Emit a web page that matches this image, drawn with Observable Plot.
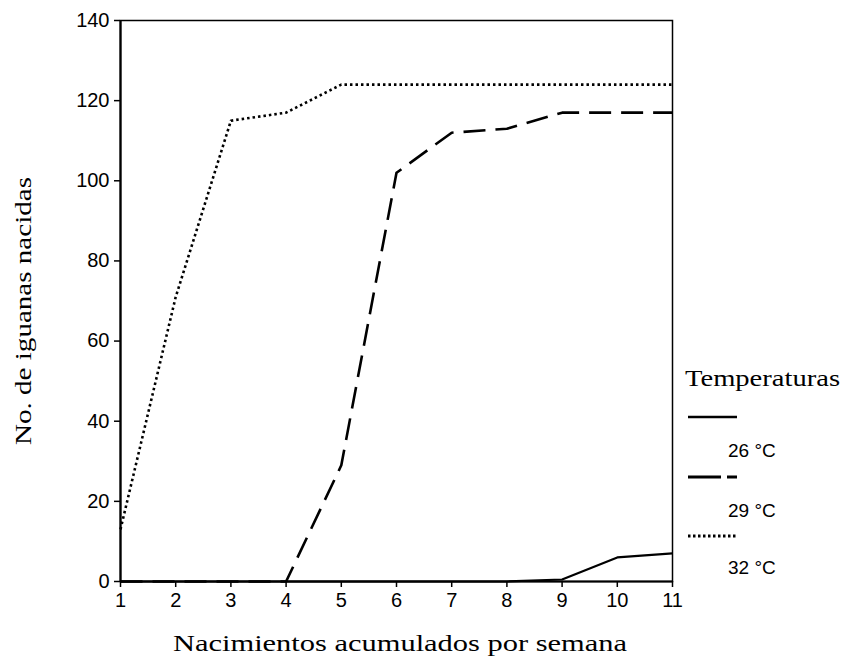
<!DOCTYPE html>
<html><head><meta charset="utf-8">
<script src="https://cdn.jsdelivr.net/npm/d3@7"></script>
<script src="https://cdn.jsdelivr.net/npm/@observablehq/plot@0.6"></script>
<style>
body{margin:0;background:#fff}
#chart{position:relative;width:845px;height:658px}
</style>
</head><body><div id="chart"></div>
<script>
// ---- data ----
const weeks  = [1, 2, 3, 4, 5, 6, 7, 8, 9, 10, 11];
const temp26 = [0, 0, 0, 0, 0, 0, 0, 0, 0.5, 6, 7];
const temp29 = [0, 0, 0, 0, 29, 102, 112, 113, 117, 117, 117];
const temp32 = [13, 71, 115, 117, 124, 124, 124, 124, 124, 124, 124];
const seriesNames = ["26 °C", "29 °C", "32 °C"];
const xTicks = [1, 2, 3, 4, 5, 6, 7, 8, 9, 10, 11];
const yTicks = [0, 20, 40, 60, 80, 100, 120, 140];
const xTitle = "Nacimientos acumulados por semana";
const yTitle = "No. de iguanas nacidas";
const legendTitle = "Temperaturas";

// ---- styles ----
const lineStyle = {
  "26 °C": {strokeWidth: 2.2, dash: null},
  "29 °C": {strokeWidth: 2.6, dash: "22,10"},
  "32 °C": {strokeWidth: 2.6, dash: "2.5,3"}
};
const seriesValues = [temp26, temp29, temp32];
const rows = seriesNames.map((name, i) => weeks.map((w, j) => ({week: w, value: seriesValues[i][j], series: name})));

const lineMarks = rows.map((r, i) => Plot.lineY(r, {
  x: "week", y: "value",
  stroke: "#000",
  strokeWidth: lineStyle[seriesNames[i]].strokeWidth,
  strokeDasharray: lineStyle[seriesNames[i]].dash,
  strokeLinecap: "butt",
  strokeLinejoin: "round"
}));

const plot = Plot.plot({
  width: 845, height: 658,
  marginLeft: 120, marginRight: 173, marginTop: 20, marginBottom: 77,
  style: {fontFamily: "'Liberation Sans', Arial, sans-serif", fontSize: "20px", color: "#000", background: "#fff"},
  x: {domain: [1, 11]},
  y: {domain: [0, 140]},
  marks: [
    Plot.frame({stroke: "#000", strokeWidth: 1.5}),
    Plot.axisX({ticks: xTicks, tickSize: 6, tickPadding: 5, fontSize: 20, label: null, tickFormat: d => d, strokeWidth: 1.5}),
    Plot.axisY({ticks: yTicks, tickSize: 6, tickPadding: 5, fontSize: 20, label: null, tickFormat: d => d, strokeWidth: 1.5}),
    Plot.ruleX([1], {stroke: "#000", strokeWidth: 2.2}),
    Plot.ruleY([0], {stroke: "#000", strokeWidth: 2.2}),
    ...lineMarks
  ]
});

document.getElementById("chart").appendChild(plot);

// ---- titles and legend ----
const svg = d3.select(plot);
const serif = "'Liberation Serif', 'Times New Roman', serif";
svg.append("text")
  .attr("x", 400).attr("y", 651)
  .attr("text-anchor", "middle")
  .attr("font-family", serif).attr("font-size", 24)
  .attr("textLength", 454).attr("lengthAdjust", "spacingAndGlyphs")
  .attr("fill", "#000")
  .text(xTitle);
svg.append("text")
  .attr("transform", "translate(31,311) rotate(-90)")
  .attr("text-anchor", "middle")
  .attr("font-family", serif).attr("font-size", 24)
  .attr("textLength", 268).attr("lengthAdjust", "spacingAndGlyphs")
  .attr("fill", "#000")
  .text(yTitle);
svg.append("text")
  .attr("x", 685).attr("y", 386)
  .attr("text-anchor", "start")
  .attr("font-family", serif).attr("font-size", 23)
  .attr("textLength", 155).attr("lengthAdjust", "spacingAndGlyphs")
  .attr("fill", "#000")
  .text(legendTitle);

const legendDash = {"26 °C": null, "29 °C": "33,6,10", "32 °C": "2.5,2.5"};
const legendY = [417, 477, 536];
const labelY = [457, 517, 574];
seriesNames.forEach((name, i) => {
  svg.append("line")
    .attr("x1", 688).attr("x2", 737)
    .attr("y1", legendY[i]).attr("y2", legendY[i])
    .attr("stroke", "#000")
    .attr("stroke-width", lineStyle[name].strokeWidth + 0.4)
    .attr("stroke-dasharray", legendDash[name]);
  svg.append("text")
    .attr("x", 728).attr("y", labelY[i])
    .attr("text-anchor", "start")
    .attr("font-family", "'Liberation Sans', Arial, sans-serif")
    .attr("font-size", 19)
    .attr("fill", "#000")
    .text(name);
});
</script>
</body></html>
